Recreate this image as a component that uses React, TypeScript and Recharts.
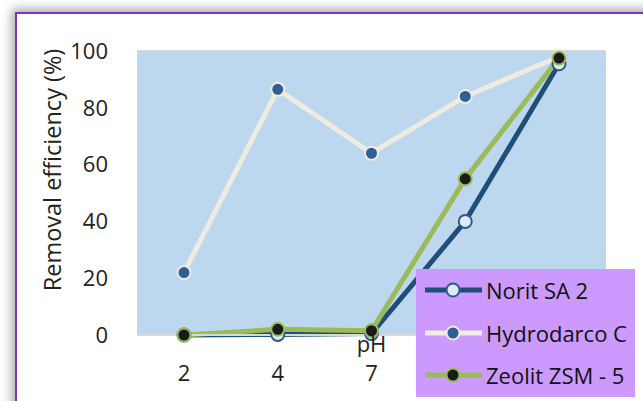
import React from "react";
import { LineChart, Line, XAxis, YAxis, CartesianGrid, Legend, Label } from "recharts";

const categories = ["2", "4", "7", "10", "12"];
const noritSA2 = [0, 0.2, 0.5, 40, 95.5];
const hydrodarcoC = [22, 86.5, 64, 84, 98];
const zeolitZSM5 = [0, 2, 1.5, 55, 97.5];
const yTicks = [0, 20, 40, 60, 80, 100];

const data = categories.map((c, i) => ({
  ph: c,
  norit: noritSA2[i],
  hydro: hydrodarcoC[i],
  zeolit: zeolitZSM5[i],
}));

const FONT = "'Open Sans', 'Noto Sans', sans-serif";

const seriesDefs = [
  { key: "norit", name: "Norit SA 2", stroke: "#1F4E79", fill: "#DEEBF7", dotStroke: "#2E5C8A" },
  { key: "hydro", name: "Hydrodarco C", stroke: "#EEECE1", fill: "#2F5F98", dotStroke: "#EEECE1" },
  { key: "zeolit", name: "Zeolit ZSM - 5", stroke: "#9BBB59", fill: "#1A1A1A", dotStroke: "#9BBB59" },
];

const LegendBox = () => (
  <div
    style={{
      background: "#CC99FF",
      width: 219,
      height: 128,
      boxSizing: "border-box",
      paddingTop: 0,
      fontFamily: FONT,
      fontSize: 22,
      color: "#111",
    }}
  >
    {seriesDefs.map((s) => (
      <div key={s.key} style={{ display: "flex", alignItems: "center", height: 42.5, whiteSpace: "nowrap" }}>
        <svg width={70} height={20} style={{ flex: "none" }}>
          <line x1={9} y1={10} x2={66} y2={10} stroke={s.stroke} strokeWidth={5} />
          <circle cx={37} cy={10} r={6.5} fill={s.fill} stroke={s.dotStroke} strokeWidth={2} />
        </svg>
        <span style={{ lineHeight: "22px" }}>{s.name}</span>
      </div>
    ))}
  </div>
);

const YLabel = (props: any) => {
  const vb = props.viewBox || {};
  const cx = vb.x + 52;
  const cy = vb.y + vb.height / 2 - 23;
  return (
    <text
      x={cx}
      y={cy}
      transform={`rotate(-90, ${cx}, ${cy})`}
      textAnchor="middle"
      dominantBaseline="central"
      fontFamily={FONT}
      fontSize={23.5}
      fill="#222"
    >
      Removal efficiency (%)
    </text>
  );
};

export default function App() {
  return (
    <div style={{ position: "absolute", left: 0, top: 0, width: 643, height: 401, background: "#fff", overflow: "hidden" }}>
      <div
        style={{
          position: "absolute",
          left: 15,
          top: 12,
          width: 700,
          height: 500,
          border: "2px solid #7A35B8",
          background: "#fff",
          boxShadow: "0 0 10px 3px rgba(0,0,0,0.35)",
        }}
      />
      <div style={{ position: "absolute", left: 0, top: 0 }}>
        <LineChart width={643} height={401} data={data} margin={{ top: 51, right: 37, bottom: 36, left: 0 }}>
          <rect x={137} y={51} width={469} height={284} fill="#BDD7EE" />
          <CartesianGrid vertical={false} stroke="#D9D9D9" strokeWidth={2} fill="#BDD7EE" />
          <XAxis
            dataKey="ph"
            height={30}
            padding={{ left: 47, right: 47 }}
            axisLine={{ stroke: "#D9D9D9", strokeWidth: 2 }}
            tickLine={false}
            tickSize={0}
            tickMargin={30}
            tick={{ fontFamily: FONT, fontSize: 22, fill: "#222" }}
            interval={0}
          >
            <Label value="pH" position="insideTop" offset={1} style={{ fontFamily: FONT, fontSize: 22, fill: "#222" }} />
          </XAxis>
          <YAxis
            width={137}
            domain={[0, 100]}
            ticks={yTicks}
            axisLine={false}
            tickLine={false}
            tickSize={0}
            tickMargin={29}
            tick={{ fontFamily: FONT, fontSize: 22, fill: "#222" }}
          >
            <Label content={<YLabel />} />
          </YAxis>
          {seriesDefs.map((s) => (
            <Line
              key={s.key}
              type="linear"
              dataKey={s.key}
              name={s.name}
              stroke={s.stroke}
              strokeWidth={5}
              dot={{ r: 6.5, fill: s.fill, stroke: s.dotStroke, strokeWidth: 2 }}
              activeDot={false}
              isAnimationActive={false}
            />
          ))}
          <Legend
            layout="vertical"
            align="center"
            verticalAlign="middle"
            content={<LegendBox />}
            wrapperStyle={{ position: "absolute", left: 416, top: 269, width: 219, height: 128 }}
          />
        </LineChart>
      </div>
    </div>
  );
}
